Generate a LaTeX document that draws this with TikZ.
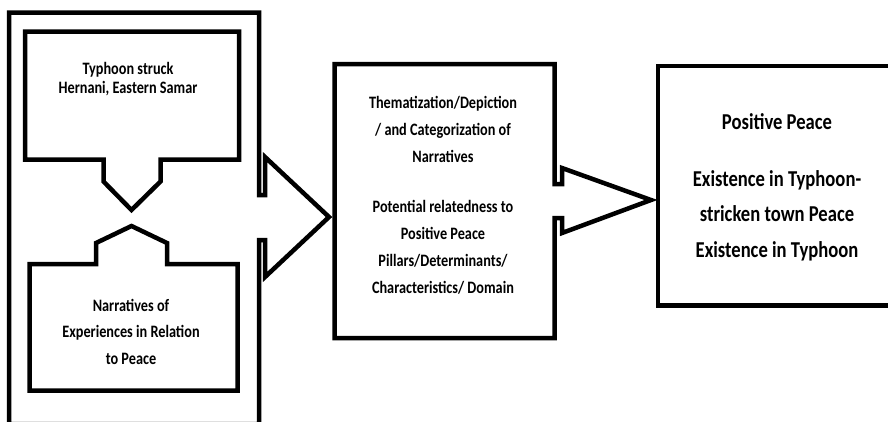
\documentclass[tikz,border=0pt]{standalone}
\usepackage{fontspec}
\newfontfamily\cf[FakeStretch=0.82]{Carlito}
\begin{document}
\begin{tikzpicture}[x=1pt,y=-1pt,line join=miter,
  outline/.style={draw=black,line width=4.5pt},
  txt/.style={font=\cf\bfseries\fontsize{17.4}{27}\selectfont,align=center,inner sep=0pt},
  bigtxt/.style={font=\cf\bfseries\fontsize{22.7}{35.5}\selectfont,align=center,inner sep=0pt}]
\useasboundingbox (0,0) rectangle (888,421);
% outer frame with first block arrow
\draw[outline] (9,424) -- (9,12.5) -- (259,12.5) -- (259,195) -- (265,195) -- (265,157)
  -- (329,217) -- (265,277) -- (265,240) -- (259,240) -- (259,424) -- cycle;
% top callout box
\draw[outline] (25,31.5) -- (239,31.5) -- (239,159.5) -- (160.5,159.5) -- (160.5,181.5)
  -- (131.5,210) -- (103.5,181.5) -- (103.5,159.5) -- (25,159.5) -- cycle;
% bottom callout box
\draw[outline] (29.5,264) -- (96,264) -- (96,243) -- (131.5,226) -- (167,243) -- (167,264)
  -- (237.5,264) -- (237.5,390.5) -- (29.5,390.5) -- cycle;
% middle box with second block arrow
\draw[outline] (334.5,64) -- (554.5,64) -- (554.5,184) -- (562,184) -- (562,168)
  -- (651,200) -- (562,233) -- (562,218) -- (554.5,218) -- (554.5,338) -- (334.5,338) -- cycle;
% right box
\draw[outline] (658,66) -- (900,66) -- (900,305.5) -- (658,305.5) -- cycle;
% texts
\node[txt,font=\cf\bfseries\fontsize{17.4}{18.5}\selectfont] (ttop) at (128,79) {Typhoon struck\\Hernani, Eastern Samar};
\node[txt,font=\cf\bfseries\fontsize{17.4}{26.5}\selectfont] (tbot) at (131,331.5) {Narratives of\\Experiences in Relation\\to Peace};
\node[txt] (tmid) at (443,195.5) {Thematization/Depiction\\/ and Categorization of\\Narratives\\[23pt]Potential relatedness to\\Positive Peace\\Pillars/Determinants/\\Characteristics/ Domain};
\node[bigtxt] (tright) at (777,187) {Positive Peace\\[21.5pt]Existence in Typhoon-\\stricken town Peace\\Existence in Typhoon};
\end{tikzpicture}
\end{document}
